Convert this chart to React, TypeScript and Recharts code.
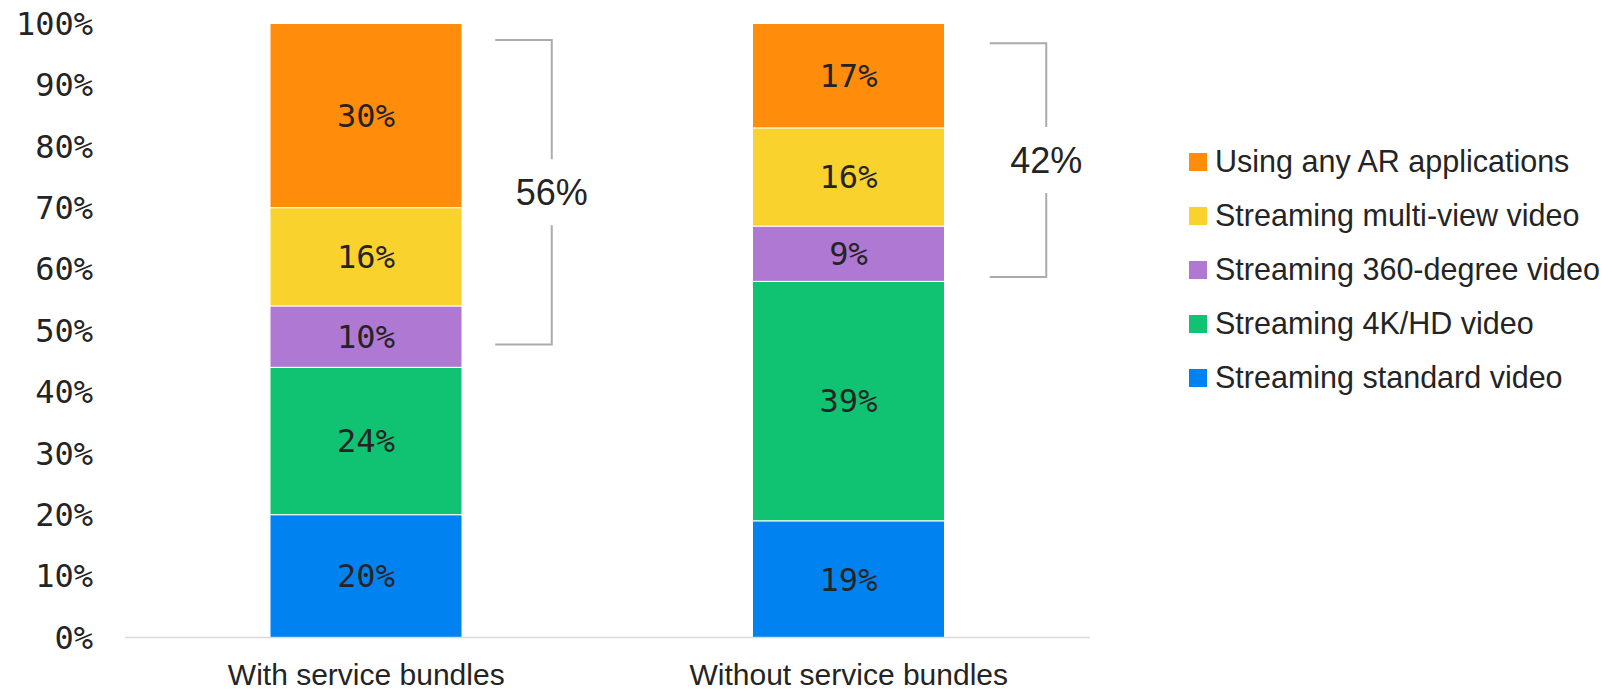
import React from 'react';
import { BarChart, Bar, XAxis, YAxis, LabelList } from 'recharts';

// ---- data ----
const categories = ['With service bundles', 'Without service bundles'];
const standardVideo = [20, 19];
const hdVideo = [24, 39];
const degreeVideo = [10, 9];
const multiViewVideo = [16, 16];
const arApps = [30, 17];
const yTicks = [0, 10, 20, 30, 40, 50, 60, 70, 80, 90, 100];

const seriesKeys = ['standard', 'hd', 'deg', 'multi', 'ar'];
const seriesNames = [
  'Streaming standard video',
  'Streaming 4K/HD video',
  'Streaming 360-degree video',
  'Streaming multi-view video',
  'Using any AR applications',
];
const seriesColors = ['#0082F0', '#0FC373', '#AF78D2', '#FAD22D', '#FF8C0A'];

// bracket annotations (value extents on the y scale)
const bracketLabels = ['56%', '42%'];
const bracketFrom = [47.7, 58.7];
const bracketTo = [97.3, 96.8];

const data = categories.map((name, i) => ({
  name,
  standard: standardVideo[i],
  hd: hdVideo[i],
  deg: degreeVideo[i],
  multi: multiViewVideo[i],
  ar: arApps[i],
}));

// ---- layout ----
const W = 1612;
const H = 692;
const PLOT_TOP = 23.5;
const PLOT_BOTTOM = 637.5;
const PLOT_LEFT = 125;
const PLOT_RIGHT = 1090;
const PLOT_H = PLOT_BOTTOM - PLOT_TOP;
const BAND_W = (PLOT_RIGHT - PLOT_LEFT) / categories.length;
const yPx = (v: number) => PLOT_TOP + (1 - v / 100) * PLOT_H;
const bracketArmStart = [129, 141];
const ARM_LEN = 56.5;
const GAP = 66;

const MONO = '"DejaVu Sans Mono", monospace';
const SANS = '"Liberation Sans", Arial, sans-serif';
const TEXT = '#242424';

export default function App() {
  return (
    <div style={{ position: 'absolute', left: 0, top: 0, width: W, height: H, background: '#fff' }}>
      <BarChart
        width={W}
        height={H}
        data={data}
        margin={{ top: PLOT_TOP, right: W - PLOT_RIGHT, bottom: 0, left: 0 }}
      >
        <XAxis
          dataKey="name"
          height={H - PLOT_BOTTOM}
          axisLine={{ stroke: '#d9d9d9', strokeWidth: 1.5 }}
          tickLine={false}
          tickSize={0}
          tickMargin={26.5}
          tick={{ fill: TEXT, fontSize: 30, fontFamily: SANS }}
          interval={0}
        />
        <YAxis
          width={PLOT_LEFT}
          domain={[0, 100]}
          ticks={yTicks}
          axisLine={false}
          tickLine={false}
          tickSize={0}
          tickMargin={32}
          tickFormatter={(v: number) => `${v}%`}
          tick={{ fill: TEXT, fontSize: 32, fontFamily: MONO }}
          interval={0}
        />
        {seriesKeys.map((k, i) => (
          <Bar
            key={k}
            dataKey={k}
            name={seriesNames[i]}
            stackId="a"
            fill={seriesColors[i]}
            stroke="#ffffff"
            strokeWidth={1}
            barSize={192}
            isAnimationActive={false}
          >
            <LabelList
              dataKey={k}
              position="center"
              formatter={(v: number) => `${v}%`}
              fill={TEXT}
              fontSize={32}
              fontFamily={MONO}
            />
          </Bar>
        ))}
      </BarChart>

      {/* bracket annotations */}
      <svg width={W} height={H} style={{ position: 'absolute', left: 0, top: 0, pointerEvents: 'none' }}>
        {bracketLabels.map((lab, i) => {
          const cx = PLOT_LEFT + BAND_W * (i + 0.5);
          const x0 = cx + bracketArmStart[i];
          const x1 = x0 + ARM_LEN;
          const yTop = yPx(bracketTo[i]);
          const yBot = yPx(bracketFrom[i]);
          const mid = (yTop + yBot) / 2;
          return (
            <g key={lab}>
              <polyline
                points={`${x0},${yTop} ${x1},${yTop} ${x1},${mid - GAP / 2}`}
                fill="none"
                stroke="#ababab"
                strokeWidth={2}
              />
              <polyline
                points={`${x1},${mid + GAP / 2} ${x1},${yBot} ${x0},${yBot}`}
                fill="none"
                stroke="#ababab"
                strokeWidth={2}
              />
              <text
                x={x1}
                y={mid}
                textAnchor="middle"
                dominantBaseline="central"
                fill={TEXT}
                fontSize={36}
                fontFamily={SANS}
              >
                {lab}
              </text>
            </g>
          );
        })}
      </svg>

      {/* legend */}
      <div style={{ position: 'absolute', left: 1189, top: 134.7, fontFamily: SANS, fontSize: 30.5, color: TEXT }}>
        {seriesNames
          .map((n, i) => ({ n, c: seriesColors[i] }))
          .reverse()
          .map((it) => (
            <div key={it.n} style={{ height: 54, display: 'flex', alignItems: 'center', whiteSpace: 'nowrap' }}>
              <div style={{ width: 18, height: 18, background: it.c, marginRight: 8 }} />
              <span>{it.n}</span>
            </div>
          ))}
      </div>
    </div>
  );
}
